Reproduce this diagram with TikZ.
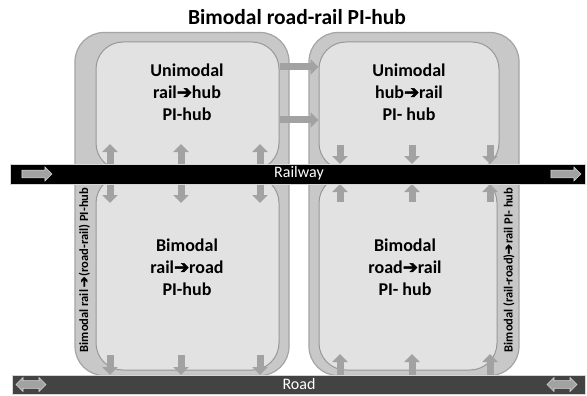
\documentclass[tikz,border=0pt]{standalone}
\usepackage{fontspec}
\setmainfont{Carlito}
\newfontfamily\dvf[FakeBold=3]{DejaVu Sans}
\usetikzlibrary{arrows.meta,shapes.arrows}
\definecolor{outerfill}{HTML}{C8C8C8}
\definecolor{outerdraw}{HTML}{A4A4A4}
\definecolor{innerfill}{HTML}{E2E2E2}
\definecolor{innerdraw}{HTML}{989898}
\definecolor{arrfill}{HTML}{A2A2A2}
\definecolor{arrline}{HTML}{D6D6D6}
\definecolor{roadcol}{HTML}{434343}
\newcommand{\harrow}{{\dvf ➔}}
\begin{document}
\begin{tikzpicture}[x=1pt,y=-1pt,
  outerbox/.style={draw=outerdraw, fill=outerfill, line width=1.2pt, rounded corners=29pt, inner sep=0pt},
  innerbox/.style={draw=innerdraw, fill=innerfill, line width=1pt, rounded corners=27pt, inner sep=0pt},
  hubtext/.style={font=\bfseries\fontsize{18}{22}\selectfont, align=center, text=black},
  sidetext/.style={font=\bfseries\fontsize{12.5}{14}\selectfont, rotate=90, inner sep=0pt},
  bandtext/.style={font=\fontsize{16}{18}\selectfont, text=white, inner sep=0pt},
  band/.style={draw=arrline, line width=0.6pt, inner sep=0pt, minimum height=20pt},
  tipv/.tip={Triangle[width=15pt,length=8pt]},
  varr/.style={draw=arrfill, line width=7pt, -tipv},
  dvarr/.style={draw=arrfill, line width=7pt, tipv-tipv},
  harr/.style={draw=arrfill, line width=7pt, -tipv},
  endarr/.style={single arrow, draw=arrline, fill=arrfill, line width=0.6pt, minimum height=30pt,
    minimum width=14pt, single arrow head extend=3pt, inner sep=3.5pt},
  endarrb/.style={double arrow, draw=arrline, fill=arrfill, line width=0.6pt, minimum height=30pt,
    minimum width=14pt, double arrow head extend=3pt, inner sep=3.5pt}
]
\useasboundingbox (0,0) rectangle (587,396);
\fill[white] (0,0) rectangle (587,396);

% title
\node[font=\bfseries\fontsize{21.5}{24}\selectfont] (title) at (297,17) {Bimodal road-rail PI-hub};

% outer boxes
\node[outerbox, minimum width=214pt, minimum height=343pt] (outL) at (182,204) {};
\node[outerbox, minimum width=210pt, minimum height=343pt] (outR) at (414,204) {};

% inner boxes
\node[innerbox, minimum width=183pt, minimum height=128pt] (inTL) at (187.5,106) {};
\node[innerbox, minimum width=180pt, minimum height=128pt] (inTR) at (409,106) {};
\node[innerbox, minimum width=183pt, minimum height=194pt] (inBL) at (187.5,273) {};
\node[innerbox, minimum width=178pt, minimum height=194pt] (inBR) at (408,273) {};

% vertical arrows: rail <-> top-left / bottom-left ; bottom-left -> road
\foreach \xx in {110,181,260}{
  \draw[dvarr] (\xx,144) -- (\xx,203);
  \draw[varr] (\xx,355) -- (\xx,375);
}
% top-right -> rail ; bottom-right -> rail ; road -> bottom-right
\foreach \xx in {340,412,490}{
  \draw[varr] (\xx,145) -- (\xx,164);
  \draw[varr] (\xx,202) -- (\xx,184);
  \draw[varr] (\xx,375) -- (\xx,354);
}

% railway
\node[band, fill=black, minimum width=575pt] (rail) at (297.5,174) {};
\node[bandtext] (railtxt) at (299,173) {Railway};
\node[endarr] (railA) at (35,174) {};
\node[endarr] (railB) at (564,174) {};

% road
\node[band, fill=roadcol, minimum width=573pt, minimum height=19pt] (road) at (298.5,384.5) {};
\node[bandtext] (roadtxt) at (299,384) {Road};
\node[endarrb] (roadA) at (31,384.5) {};
\node[endarrb] (roadB) at (562,384.5) {};

% horizontal arrows between upper hubs
\draw[harr] (inTL.east|-0,67) -- (inTR.west|-0,67);
\draw[harr] (inTL.east|-0,120) -- (inTR.west|-0,120);

% hub texts
\node[hubtext] (tTL) at (187,92) {Unimodal\\rail\harrow hub\\PI-hub};
\node[hubtext] (tTR) at (409,92) {Unimodal\\hub\harrow rail\\PI- hub};
\node[hubtext] (tBL) at (187,267) {Bimodal\\rail\harrow road\\PI-hub};
\node[hubtext] (tBR) at (405,267) {Bimodal\\road\harrow rail\\PI- hub};

% side texts
\node[sidetext] (sL) at (84.5,270) {Bimodal rail \harrow(road-rail) PI-hub};
\node[sidetext] (sR) at (509,270) {Bimodal (rail-road)\harrow rail PI- hub};
\end{tikzpicture}
\end{document}
